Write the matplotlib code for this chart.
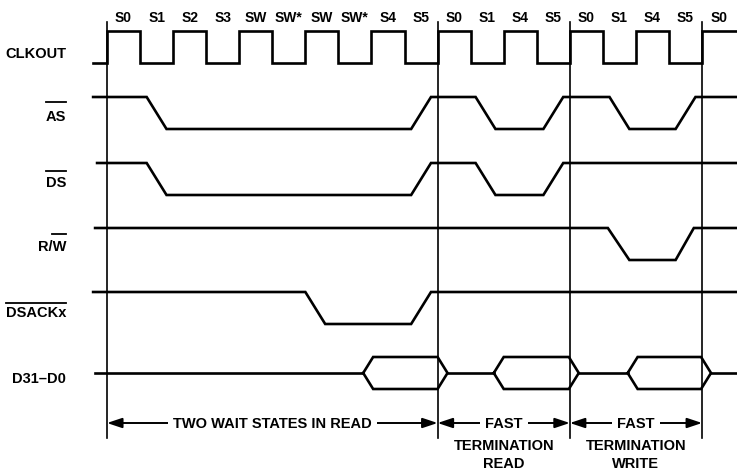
import matplotlib
matplotlib.use("Agg")
import matplotlib.pyplot as plt
from matplotlib.font_manager import fontManager

# ---------------- data ----------------
# bus-cycle state names, one per clock half-period
state_labels = ["S0", "S1", "S2", "S3", "SW", "SW*", "SW", "SW*", "S4", "S5",
                "S0", "S1", "S4", "S5", "S0", "S1", "S4", "S5", "S0"]
state_times = [0.5, 1.5, 2.5, 3.5, 4.5, 5.5, 6.5, 7.5, 8.5, 9.5,
               10.5, 11.5, 12.5, 13.5, 14.5, 15.5, 16.5, 17.5, 18.5]

# CLKOUT (step waveform, level holds until next time)
clk_t = [-0.42, 0, 1, 2, 3, 4, 5, 6, 7, 8, 9, 10, 11, 12, 13, 14, 15, 16, 17, 18, 19.1]
clk_v = [0, 1, 0, 1, 0, 1, 0, 1, 0, 1, 0, 1, 0, 1, 0, 1, 0, 1, 0, 1, 1]

# control signals (piece-wise linear, 1 = high, 0 = low)
as_t = [-0.42, 1.2, 1.8, 9.2, 9.8, 11.15, 11.75, 13.2, 13.8, 15.2, 15.8, 17.2, 17.8, 19.1]
as_v = [1, 1, 0, 0, 1, 1, 0, 0, 1, 1, 0, 0, 1, 1]

ds_t = [-0.3, 1.2, 1.8, 9.2, 9.8, 11.15, 11.75, 13.2, 13.8, 19.1]
ds_v = [1, 1, 0, 0, 1, 1, 0, 0, 1, 1]

rw_t = [-0.36, 15.15, 15.8, 17.2, 17.75, 19.1]
rw_v = [1, 1, 0, 0, 1, 1]

dsack_t = [-0.42, 6.0, 6.6, 9.2, 9.8, 19.1]
dsack_v = [1, 1, 0, 0, 1, 1]

# data bus valid windows (start, end)
bus_start = [7.75, 11.7, 15.75]
bus_end = [10.3, 14.27, 18.27]
bus_range = [-0.36, 19.1]

# cycle boundaries
cycle_bounds = [0, 10, 14, 18]

signal_names = ["CLKOUT", "AS", "DS", "R/W", "DSACKx", "D31\u2013D0"]
overlined = [None, "AS", "DS", "W", "DSACKx", None]

section_titles = [["TWO WAIT STATES IN READ"],
                  ["FAST", "TERMINATION", "READ"],
                  ["FAST", "TERMINATION", "WRITE"]]

# ---------------- layout / style ----------------
PX_PER_T = 33.06
T0_PX = 107
W, H = 737, 471
row_low = [62.5, 129, 195, 260, 324]   # pixel y of logic-low level per row
AMP = 32.0
bus_center, bus_half = 373, 16
bus_w = 0.3
label_baseline = [58, 121, 187, 251, 317, 383]
overline_y = [None, 102, 171, 234, 303, None]
label_right_t = (66 - T0_PX) / PX_PER_T

avail = {f.name for f in fontManager.ttflist}
fam = [f for f in ["Liberation Sans Narrow", "Liberation Sans", "DejaVu Sans"] if f in avail]
plt.rcParams["font.family"] = fam

LW = 1.9
fig = plt.figure(figsize=(W / 100, H / 100), dpi=100)
ax = fig.add_axes([0, 0, 1, 1])
ax.set_xlim(-T0_PX / PX_PER_T, (W - T0_PX) / PX_PER_T)
ax.set_ylim(H, 0)
ax.axis("off")

# clock
ax.plot(clk_t, [row_low[0] - v * AMP for v in clk_v], drawstyle="steps-post",
        color="black", lw=LW, solid_joinstyle="miter")

# other signals
for i, (tt, vv) in enumerate([(as_t, as_v), (ds_t, ds_v), (rw_t, rw_v), (dsack_t, dsack_v)], start=1):
    ax.plot(tt, [row_low[i] - v * AMP for v in vv], color="black", lw=LW,
            solid_joinstyle="miter")

# data bus
prev = bus_range[0]
for s, e in zip(bus_start, bus_end):
    ax.plot([prev, s], [bus_center, bus_center], color="black", lw=LW)
    xs = [s, s + bus_w, e - bus_w, e, e - bus_w, s + bus_w, s]
    ys = [bus_center, bus_center - bus_half, bus_center - bus_half, bus_center,
          bus_center + bus_half, bus_center + bus_half, bus_center]
    ax.plot(xs, ys, color="black", lw=LW, solid_joinstyle="miter")
    prev = e
ax.plot([prev, bus_range[1]], [bus_center, bus_center], color="black", lw=LW)

# cycle boundary lines
for t in cycle_bounds:
    ax.plot([t, t], [22, 438], color="black", lw=1.2)

# state labels
for lab, t in zip(state_labels, state_times):
    ax.text(t, 22, lab, ha="center", va="baseline", fontsize=10, fontweight="bold")

# signal names
txts = []
for name, yb in zip(signal_names, label_baseline):
    txts.append(ax.text(label_right_t, yb, name, ha="right", va="baseline",
                        fontsize=10.5, fontweight="bold"))

fig.canvas.draw()
rend = fig.canvas.get_renderer()
inv = ax.transData.inverted()
for txt, ov, oy, yb in zip(txts, overlined, overline_y, label_baseline):
    if ov is None:
        continue
    probe = ax.text(label_right_t, yb, ov, ha="right", va="baseline",
                    fontsize=10.5, fontweight="bold", alpha=0)
    bb = probe.get_window_extent(rend)
    x0 = inv.transform((bb.x0, 0))[0]
    x1 = inv.transform((bb.x1, 0))[0]
    ax.plot([x0, x1], [oy, oy], color="black", lw=1.3)
    probe.remove()

# section arrows and titles
arrow_y = 423
line_y = [428, 450, 468]
for k in range(3):
    a, b = cycle_bounds[k], cycle_bounds[k + 1]
    ax.annotate("", xy=(a, arrow_y), xytext=(b, arrow_y),
                arrowprops=dict(arrowstyle="<|-|>,head_length=0.9,head_width=0.3",
                                mutation_scale=10, lw=1.4, color="black",
                                shrinkA=0, shrinkB=0))
    mid = (a + b) / 2
    for j, line in enumerate(section_titles[k]):
        kw = {}
        if j == 0:
            kw["bbox"] = dict(facecolor="white", edgecolor="none", boxstyle="square,pad=0.35")
        ax.text(mid, line_y[j], line, ha="center", va="baseline", fontsize=10.5,
                fontweight="bold", zorder=5, **kw)

fig.savefig("out.png", dpi=100)
